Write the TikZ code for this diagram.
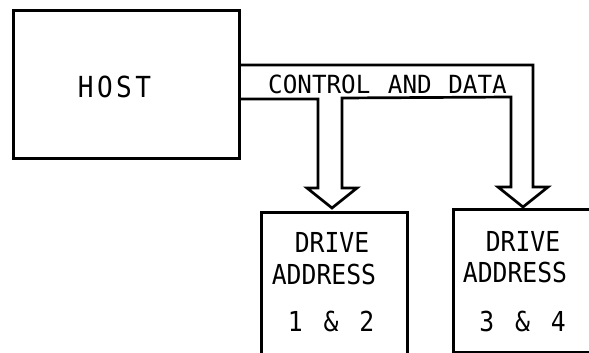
\documentclass[tikz,border=0pt]{standalone}
\usepackage{fontspec}
\setmainfont{DejaVu Sans Mono}[FakeStretch=0.9]
\newfontfamily\busfont{DejaVu Sans Mono}[FakeStretch=0.97]
\newfontfamily\hostfont{DejaVu Sans Mono}[FakeStretch=0.9,LetterSpace=12]
\begin{document}
\begin{tikzpicture}[x=1pt,y=-1pt,line width=2.7pt,line join=miter,
  box/.style={draw,rectangle,inner sep=0pt,anchor=north west},
  lbl/.style={inner sep=0pt,font=\fontsize{27.5}{30}\selectfont},
  buslbl/.style={inner sep=0pt,font=\busfont\fontsize{25}{27}\selectfont}]
\useasboundingbox (0,0) rectangle (589,353);
\clip (0,0) rectangle (589,353);
% host
\node[box,minimum width=226pt,minimum height=148pt] (host) at (12,9) {};
\node[inner sep=0pt,font=\hostfont\fontsize{29}{31}\selectfont] (hostt) at (114.5,86.5) {HOST};
% drive boxes
\node[box,minimum width=146pt,minimum height=160pt] (d1) at (260,211) {};
\node[box,minimum width=220pt,minimum height=143pt] (d2) at (452,208) {};
% bus
\coordinate (b0) at (238,65);
\coordinate (b1) at (238,99);
\draw (b0) -- (533,65) -- (533,187) -- (548,187) -- (523,207) -- (498,187)
      -- (511,187) -- (511,97) -- (342,98) -- (342,188) -- (357,188)
      -- (332,208) -- (307,188) -- (318,188) -- (318,99) -- (b1);
\node[buslbl] (bus) at (387.5,84) {CONTROL\hspace{3pt} AND\hspace{2pt} DATA};
% drive labels
\node[lbl] (d1a) at (332,242) {DRIVE};
\node[lbl] (d1b) at (324,274) {ADDRESS};
\node[lbl] (d1c) at (331,321) {1\hspace{6pt} \&\hspace{6pt} 2};
\node[lbl] (d2a) at (523,241) {DRIVE};
\node[lbl] (d2b) at (515,272.5) {ADDRESS};
\node[lbl] (d2c) at (522.5,321) {3\hspace{6pt} \&\hspace{6pt} 4};
\end{tikzpicture}
\end{document}
